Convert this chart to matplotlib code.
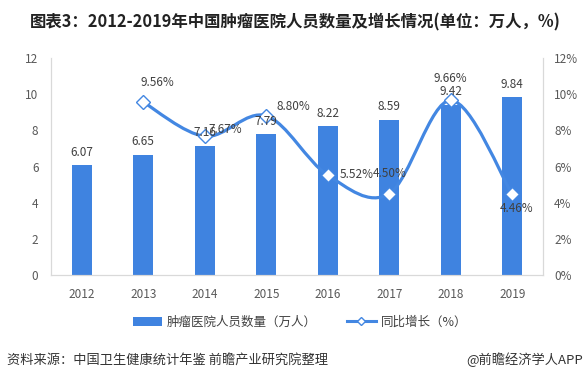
import matplotlib
matplotlib.use("Agg")
import matplotlib.pyplot as plt
import numpy as np
from matplotlib.path import Path
from matplotlib.patches import PathPatch, Patch
from matplotlib.lines import Line2D
from matplotlib.ticker import FuncFormatter

plt.rcParams['font.family'] = ['Noto Sans CJK SC', 'DejaVu Sans']

# ----------------- data
years = ['2012', '2013', '2014', '2015', '2016', '2017', '2018', '2019']
staff = [6.07, 6.65, 7.16, 7.79, 8.22, 8.59, 9.42, 9.84]          # 万人
growth_years = years[1:]
growth = [9.56, 7.67, 8.80, 5.52, 4.50, 9.66, 4.46]               # %

# label placement for growth series: (dx px, dy px, ha)
growth_label_pos = [(14, 20, 'center'), (4, 7, 'left'), (10, 9, 'left'),
                    (12, 1, 'left'), (0, 20, 'center'), (0, 22, 'center'),
                    (4, -14, 'center')]

BAR_BLUE = '#3F83E0'
LINE_BLUE = '#4387E2'
TXT = '#404040'
AXIS_TXT = '#595959'
SPINE = '#D9D9D9'
PX = 0.72  # px -> pt at dpi 100


def smooth_path(xs, ys):
    """Catmull-Rom style bezier path through points (Excel smoothed line)."""
    pts = np.column_stack([xs, ys]).astype(float)
    n = len(pts)
    verts = [pts[0]]
    codes = [Path.MOVETO]
    for i in range(n - 1):
        p0 = pts[i - 1] if i > 0 else pts[i]
        p1 = pts[i]
        p2 = pts[i + 1]
        p3 = pts[i + 2] if i + 2 < n else pts[i + 1]
        c1 = p1 + (p2 - p0) / 6.0
        c2 = p2 - (p3 - p1) / 6.0
        verts += [c1, c2, p2]
        codes += [Path.CURVE4] * 3
    return Path(verts, codes)


fig = plt.figure(figsize=(5.85, 3.81), dpi=100)
ax = fig.add_axes([51 / 585, 1 - 275 / 381, 492 / 585, 217 / 381])
ax2 = ax.twinx()

x = np.arange(len(years))
ax.bar(x, staff, width=0.33, color=BAR_BLUE, zorder=2)

ax.set_xlim(-0.5, len(years) - 0.5)
ax.set_ylim(0, 12)
ax.set_yticks(range(0, 13, 2))
ax.set_xticks(x)
ax.set_xticklabels(years)

gx = np.array([years.index(y) for y in growth_years])
ax2.add_patch(PathPatch(smooth_path(gx, growth), fill=False, edgecolor=LINE_BLUE,
                        lw=2.3, zorder=3, capstyle='round'))
ax2.plot(gx, growth, linestyle='none', marker='D', markersize=7,
         markerfacecolor='white', markeredgecolor=LINE_BLUE, markeredgewidth=1, zorder=4)
for xi, v, (dx, dy, ha) in zip(gx, growth, growth_label_pos):
    ax2.annotate(f'{v:.2f}%', (xi, v), xytext=(dx * PX, dy * PX), textcoords='offset points',
                 ha=ha, va='center', fontsize=8.5, color=TXT, zorder=5)
ax2.set_ylim(0, 12)
ax2.set_yticks(range(0, 13, 2))
ax2.yaxis.set_major_formatter(FuncFormatter(lambda v, _: f'{v:.0f}%'))

# bar value labels sit on top of the line, as in the original
for xi, v in zip(x, staff):
    ax2.annotate(f'{v:.2f}', (xi, v), xycoords=ax.transData, xytext=(0, 13 * PX),
                 textcoords='offset points', ha='center', va='center',
                 fontsize=8.5, color=TXT, zorder=6)

for a in (ax, ax2):
    a.tick_params(length=0, labelsize=8.5, labelcolor=AXIS_TXT)
    a.spines['top'].set_visible(False)
    for s in ('left', 'right', 'bottom'):
        a.spines[s].set_color(SPINE)
ax.tick_params(axis='y', pad=9)
ax.tick_params(axis='x', pad=9)
ax2.tick_params(axis='y', pad=8)

fig.text(30 / 585, 1 - 22 / 381, '图表3：2012-2019年中国肿瘤医院人员数量及增长情况(单位：万人，%)',
         fontsize=11.8, fontweight='bold', color='#222222', ha='left', va='center')

handles = [Patch(facecolor=BAR_BLUE, edgecolor='none'),
           Line2D([0], [0], color=LINE_BLUE, lw=2.2, marker='D', markersize=4,
                  markerfacecolor='white', markeredgecolor=LINE_BLUE)]
fig.legend(handles, ['肿瘤医院人员数量（万人）', '同比增长（%）'], loc='center',
           bbox_to_anchor=(300 / 585, 1 - 322 / 381), ncol=2, frameon=False,
           fontsize=9, handlelength=2.3, handletextpad=0.4, columnspacing=2.4,
           labelcolor=TXT)

fig.text(7 / 585, 1 - 360 / 381, '资料来源：中国卫生健康统计年鉴 前瞻产业研究院整理',
         fontsize=9.5, color='#333333', ha='left', va='center')
fig.text(583 / 585, 1 - 360 / 381, '@前瞻经济学人APP',
         fontsize=9.5, color='#333333', ha='right', va='center')

fig.savefig('out.png', dpi=100)
